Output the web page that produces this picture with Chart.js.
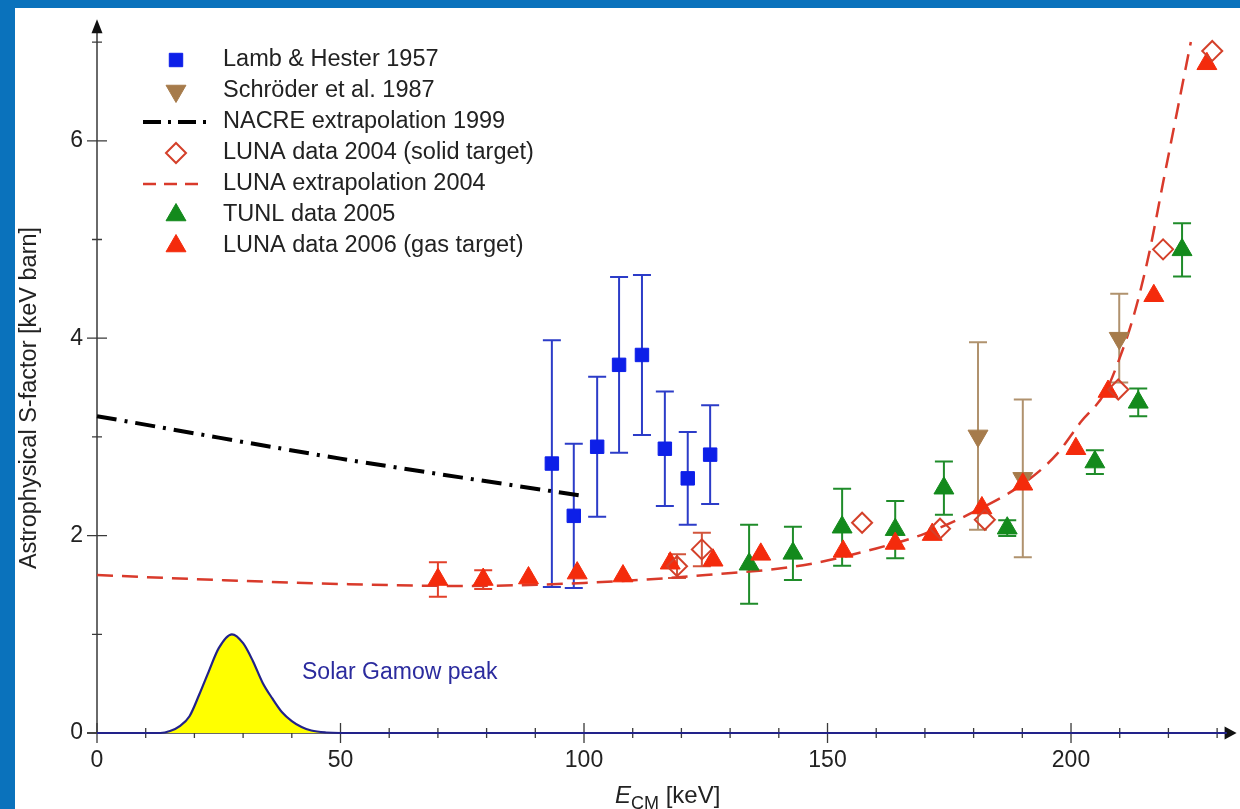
<!DOCTYPE html>
<html>
<head>
<meta charset="utf-8">
<title>Astrophysical S-factor</title>
<script src="https://cdn.jsdelivr.net/npm/chart.js"></script>
<style>
  html, body { margin: 0; padding: 0; background: #0a72bc; overflow: hidden; }
  #wrap { position: absolute; left: 15px; top: 8px; width: 1225px; height: 801px; background: #fff; }
  canvas { display: block; }
</style>
</head>
<body>
<div id="wrap"><canvas id="chart" width="1225" height="801"></canvas></div>
<script>
"use strict";

// ── Data (E_CM in keV, S in keV barn) ─────────────────────────────────────
const lambE = [93.4, 97.9, 102.7, 107.2, 111.9, 116.6, 121.3, 125.9];
const lambS = [2.73, 2.20, 2.90, 3.73, 3.83, 2.88, 2.58, 2.82];
const lambErr = [1.25, 0.73, 0.71, 0.89, 0.81, 0.58, 0.47, 0.50];

const schroderE = [180.9, 190.1, 209.9];
const schroderS = [3.01, 2.58, 4.00];
const schroderErr = [0.95, 0.80, 0.45];

const nacreE = [0, 50, 100];
const nacreS = [3.21, 2.78, 2.40];

const luna04E = [119.1, 124.2, 157.1, 173.1, 182.3, 209.7, 218.9, 229.0];
const luna04S = [1.69, 1.86, 2.13, 2.07, 2.16, 3.48, 4.90, 6.91];
const luna04Err = [0.12, 0.17, 0, 0, 0, 0, 0, 0];

const extrapE = [0, 25, 50, 75, 100, 125, 145, 160, 170, 180, 190, 197, 202, 207, 210, 213, 216, 219, 222, 224.6];
const extrapS = [1.60, 1.55, 1.51, 1.49, 1.52, 1.60, 1.70, 1.87, 2.02, 2.24, 2.52, 2.82, 3.15, 3.45, 3.80, 4.25, 4.85, 5.60, 6.35, 7.00];

const tunlE = [133.9, 142.9, 153.0, 163.9, 173.9, 186.9, 204.9, 213.8, 222.8];
const tunlS = [1.71, 1.82, 2.085, 2.06, 2.48, 2.075, 2.745, 3.35, 4.895];
const tunlErr = [0.40, 0.27, 0.39, 0.29, 0.27, 0.08, 0.12, 0.14, 0.27];

const luna06E = [70.0, 79.3, 88.6, 98.6, 108.0, 117.7, 126.5, 136.3, 153.2, 163.9, 171.5, 181.7, 190.1, 201.0, 207.6, 217.0, 227.9];
const luna06S = [1.555, 1.555, 1.57, 1.62, 1.59, 1.72, 1.75, 1.81, 1.84, 1.92, 2.01, 2.28, 2.52, 2.88, 3.46, 4.43, 6.78];
const luna06Err = [0.175, 0.095, 0, 0, 0, 0, 0, 0, 0, 0, 0, 0, 0, 0, 0, 0, 0];

const gamowE = [0, 13, 15, 17, 19, 21, 23, 25, 27.7, 30, 32, 34, 36, 38, 40, 42, 44, 47, 50, 232];
const gamowS = [0, 0, 0.02, 0.07, 0.17, 0.39, 0.63, 0.86, 1.0, 0.91, 0.73, 0.51, 0.35, 0.21, 0.12, 0.06, 0.025, 0.005, 0, 0];

const xTicks = [0, 50, 100, 150, 200];
const yTicks = [0, 2, 4, 6];
const yMinor = [1, 3, 5, 7];
const X_MAX = 234, Y_MAX = 7.25;

const FONT = "'Liberation Sans', Arial, Helvetica, sans-serif";
const pts = (xs, ys) => xs.map((x, i) => ({ x, y: ys[i] }));

// ── Error bars, drawn under the markers ───────────────────────────────────
const errorBars = {
  id: "errorBars",
  beforeDatasetsDraw(chart) {
    const { ctx } = chart;
    const ys = chart.scales.y;
    chart.data.datasets.forEach((ds, i) => {
      if (!ds.errors) return;
      const meta = chart.getDatasetMeta(i);
      ctx.save();
      ctx.strokeStyle = ds.errorColor;
      ctx.lineWidth = 2;
      ds.errors.forEach((e, j) => {
        if (!e) return;
        const x = meta.data[j].x;
        const v = ds.data[j].y;
        const top = ys.getPixelForValue(v + e), bot = ys.getPixelForValue(v - e);
        ctx.beginPath();
        ctx.moveTo(x, top); ctx.lineTo(x, bot);
        ctx.moveTo(x - 9, top); ctx.lineTo(x + 9, top);
        ctx.moveTo(x - 9, bot); ctx.lineTo(x + 9, bot);
        ctx.stroke();
      });
      ctx.restore();
    });
  },
};

// ── Arrow axes with crossing ticks ────────────────────────────────────────
const arrowAxes = {
  id: "arrowAxes",
  beforeDatasetsDraw(chart) {
    const { ctx } = chart;
    const xs = chart.scales.x, ys = chart.scales.y;
    const x0 = xs.getPixelForValue(0), y0 = ys.getPixelForValue(0);
    const xEnd = xs.getPixelForValue(X_MAX), yEnd = ys.getPixelForValue(7.23);
    ctx.save();
    ctx.strokeStyle = "#3a3a3a";
    ctx.fillStyle = "#111";
    ctx.lineWidth = 1.5;
    ctx.beginPath();
    ctx.moveTo(x0, y0); ctx.lineTo(x0, yEnd + 10);
    ctx.moveTo(x0 - 10, y0); ctx.lineTo(xEnd - 9, y0);
    ctx.stroke();
    // arrow heads
    ctx.beginPath();
    ctx.moveTo(x0, yEnd); ctx.lineTo(x0 - 5.5, yEnd + 14); ctx.lineTo(x0 + 5.5, yEnd + 14); ctx.closePath();
    ctx.moveTo(xEnd, y0); ctx.lineTo(xEnd - 12, y0 - 6.5); ctx.lineTo(xEnd - 12, y0 + 6.5); ctx.closePath();
    ctx.fill();

    ctx.lineWidth = 1.3;
    ctx.beginPath();
    for (let v = 10; v < X_MAX; v += 10) {
      if (xTicks.includes(v)) continue;
      const x = xs.getPixelForValue(v);
      ctx.moveTo(x, y0 - 5); ctx.lineTo(x, y0 + 5);
    }
    xTicks.forEach((v) => {
      const x = xs.getPixelForValue(v);
      ctx.moveTo(x, y0 - 10); ctx.lineTo(x, y0 + 10);
    });
    yMinor.forEach((v) => {
      const y = ys.getPixelForValue(v);
      ctx.moveTo(x0 - 5, y); ctx.lineTo(x0 + 5, y);
    });
    yTicks.forEach((v) => {
      const y = ys.getPixelForValue(v);
      ctx.moveTo(x0 - 10, y); ctx.lineTo(x0 + 10, y);
    });
    ctx.stroke();

    ctx.fillStyle = "#222";
    ctx.font = `23px ${FONT}`;
    ctx.textBaseline = "middle";
    ctx.textAlign = "center";
    xTicks.forEach((v) => ctx.fillText(String(v), xs.getPixelForValue(v), y0 + 28));
    ctx.textAlign = "right";
    yTicks.forEach((v) => ctx.fillText(String(v), x0 - 14, ys.getPixelForValue(v)));

    // axis titles
    ctx.textAlign = "left";
    ctx.textBaseline = "alphabetic";
    let tx = 600;
    const base = 795;
    ctx.font = `italic 24px ${FONT}`;
    ctx.fillText("E", tx, base);
    tx += ctx.measureText("E").width;
    ctx.font = `18px ${FONT}`;
    ctx.fillText("CM", tx, base + 6);
    tx += ctx.measureText("CM").width;
    ctx.font = `24px ${FONT}`;
    ctx.fillText(" [keV]", tx, base);

    ctx.translate(15, 390);
    ctx.rotate(-Math.PI / 2);
    ctx.textAlign = "center";
    ctx.textBaseline = "middle";
    ctx.font = `23.5px ${FONT}`;
    ctx.fillText("Astrophysical S-factor [keV barn]", 0, 0);
    ctx.restore();
  },
  afterDatasetsDraw(chart) {
    const { ctx } = chart;
    ctx.save();
    ctx.fillStyle = "#2b2b9e";
    ctx.font = `23px ${FONT}`;
    ctx.textBaseline = "middle";
    ctx.fillText("Solar Gamow peak", 287, 665);
    ctx.restore();
  },
};

// ── Legend in the upper left of the plot ──────────────────────────────────
const legendBox = {
  id: "legendBox",
  afterDraw(chart) {
    const { ctx } = chart;
    const mx = 161, tx = 208, y0 = 52, dy = 31;
    const drawPoint = Chart.helpers && Chart.helpers.drawPoint;
    chart.data.datasets.filter((d) => d.legendRow !== undefined).forEach((ds) => {
      const y = y0 + ds.legendRow * dy;
      ctx.save();
      if (ds.showLine) {
        ctx.strokeStyle = ds.borderColor;
        ctx.lineWidth = ds.borderWidth;
        ctx.setLineDash(ds.legendDash || ds.borderDash || []);
        ctx.beginPath();
        ctx.moveTo(mx - 33, y); ctx.lineTo(mx + 30, y);
        ctx.stroke();
      } else if (drawPoint) {
        ctx.fillStyle = ds.backgroundColor;
        ctx.strokeStyle = ds.borderColor;
        ctx.lineWidth = ds.borderWidth;
        drawPoint(ctx, { pointStyle: ds.pointStyle, rotation: ds.rotation || 0, radius: ds.pointRadius, borderWidth: ds.borderWidth }, mx, y);
      }
      ctx.restore();
      ctx.save();
      ctx.fillStyle = "#222";
      ctx.font = `23.5px ${FONT}`;
      ctx.textBaseline = "middle";
      ctx.fillText(ds.label, tx, y);
      ctx.restore();
    });
  },
};

const datasets = [
  {
    label: "LUNA data 2004 (solid target)", legendRow: 3, order: 0,
    data: pts(luna04E, luna04S), errors: luna04Err, errorColor: "#d2553c",
    pointStyle: "rectRot", pointRadius: 10, backgroundColor: "rgba(255,255,255,0)",
    borderColor: "#d4402a", borderWidth: 2,
  },
  {
    label: "LUNA data 2006 (gas target)", legendRow: 6, order: 1,
    data: pts(luna06E, luna06S), errors: luna06Err, errorColor: "#e2402a",
    pointStyle: "triangle", pointRadius: 11.5, backgroundColor: "#f42b0c", borderColor: "#f42b0c", borderWidth: 1,
  },
  {
    label: "TUNL data 2005", legendRow: 5, order: 2,
    data: pts(tunlE, tunlS), errors: tunlErr, errorColor: "#1f8c2a",
    pointStyle: "triangle", pointRadius: 11.5, backgroundColor: "#138a1c", borderColor: "#138a1c", borderWidth: 1,
  },
  {
    label: "Schröder et al. 1987", legendRow: 1, order: 3,
    data: pts(schroderE, schroderS), errors: schroderErr, errorColor: "#b0926e",
    pointStyle: "triangle", rotation: 180, pointRadius: 11.5, backgroundColor: "#a67b4b", borderColor: "#a67b4b", borderWidth: 1,
  },
  {
    label: "Lamb & Hester 1957", legendRow: 0, order: 4,
    data: pts(lambE, lambS), errors: lambErr, errorColor: "#2c3cc8",
    pointStyle: "rect", pointRadius: 9.5, backgroundColor: "#0d1fe8", borderColor: "#0d1fe8", borderWidth: 1,
  },
  {
    label: "LUNA extrapolation 2004", legendRow: 4, order: 5,
    data: pts(extrapE, extrapS), showLine: true, pointRadius: 0,
    borderColor: "#d93a2b", borderWidth: 2.5, borderDash: [16, 9], legendDash: [13, 8],
    cubicInterpolationMode: "monotone",
  },
  {
    label: "NACRE extrapolation 1999", legendRow: 2, order: 6,
    data: pts(nacreE, nacreS), showLine: true, pointRadius: 0,
    borderColor: "#000", borderWidth: 4, borderDash: [20, 8, 3, 8], legendDash: [18, 7, 3, 7],
    tension: 0.3,
  },
  {
    label: "Gamow", order: 7,
    data: pts(gamowE, gamowS), showLine: true, pointRadius: 0,
    borderColor: "#22228a", borderWidth: 2.2, backgroundColor: "#ffff00", fill: "origin",
    cubicInterpolationMode: "monotone",
  },
];

new Chart(document.getElementById("chart"), {
  type: "scatter",
  data: { datasets: datasets.map((d) => ({ clip: false, ...d })) },
  options: {
    responsive: false,
    animation: false,
    events: [],
    layout: { autoPadding: false, padding: { left: 82, right: 3.4, top: 9.4, bottom: 76 } },
    scales: {
      x: { type: "linear", min: 0, max: X_MAX, display: false },
      y: { type: "linear", min: 0, max: Y_MAX, display: false },
    },
    plugins: { legend: { display: false }, tooltip: { enabled: false } },
  },
  plugins: [errorBars, arrowAxes, legendBox],
});
</script>
</body>
</html>
